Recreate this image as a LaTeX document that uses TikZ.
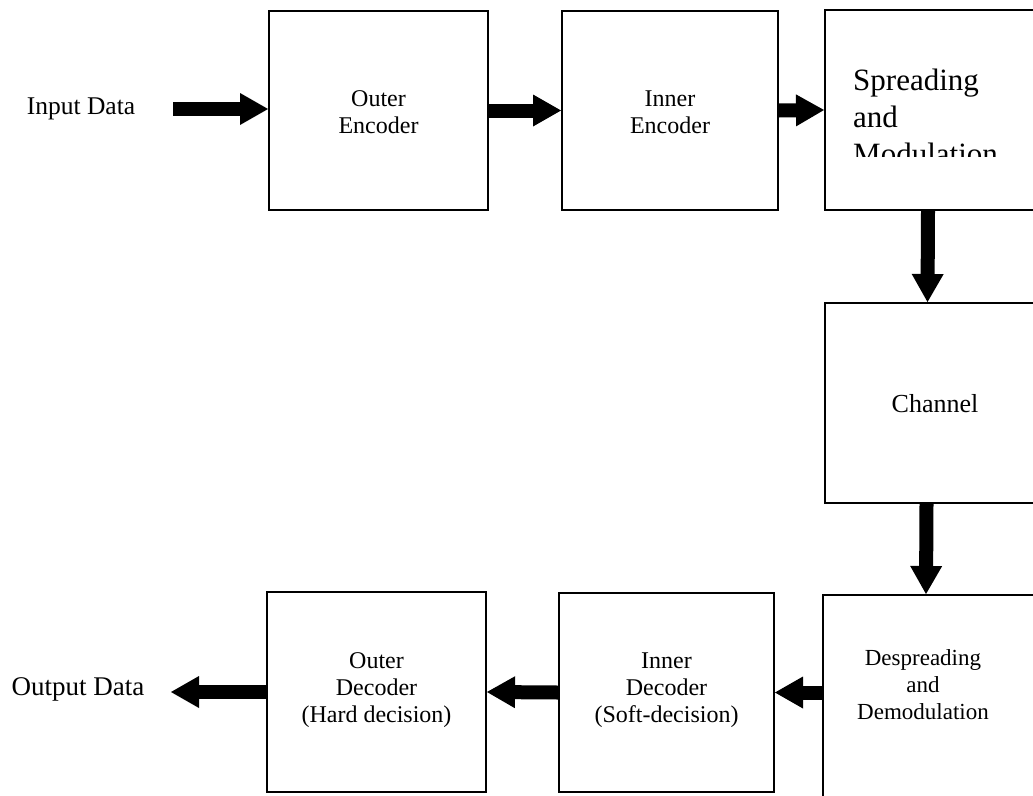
\documentclass[tikz,border=0pt]{standalone}
\usepackage{fontspec}
\setmainfont{Liberation Serif}
\usetikzlibrary{arrows.meta}
\tikzset{
  blk/.style={draw=black, line width=2pt, fill=white, minimum width=#1, inner sep=0pt},
  txt/.style={align=center, inner sep=0pt, font=\fontsize{24}{27}\selectfont},
  arr/.style={line width=14pt, -{Triangle[length=28pt,width=32pt,line width=0pt]}},
}
\begin{document}
\begin{tikzpicture}[x=1pt,y=-1pt]
\clip (0,0) rectangle (1033,795);
\fill[white] (0,0) rectangle (1033,795);
% transmitter
\node[blk=219pt, minimum height=199pt] (oe) at (378.5,110.5) {};
\node[blk=216pt, minimum height=199pt] (ie) at (670,110.5) {};
\node[blk=235pt, minimum height=200pt] (sp) at (942.5,110) {};
\node[txt] (oet) at (378.5,112) {Outer\\Encoder};
\node[txt] (iet) at (670,112) {Inner\\Encoder};
\begin{scope}
\clip (830,12) rectangle (1033,156);
\node[anchor=base west, align=left, inner sep=0pt, font=\fontsize{31}{37}\selectfont] (spt) at (853,164) {Spreading\\and\\Modulation};
\end{scope}
% channel
\node[blk=235pt, minimum height=200pt] (ch) at (942,403) {};
\node[txt, font=\fontsize{26}{30}\selectfont] (cht) at (935,404) {Channel};
% receiver
\node[blk=237pt, minimum height=236pt] (de) at (941.5,713) {};
\node[txt, font=\fontsize{23}{27}\selectfont] (det) at (923,685) {Despreading\\and\\Demodulation};
\node[blk=215pt, minimum height=199pt] (id) at (666.5,692.5) {};
\node[blk=219pt, minimum height=200pt] (od) at (376.5,692) {};
\node[txt] (idt) at (666.5,690) {Inner\\Decoder\\(Soft-decision)};
\node[txt] (odt) at (376.5,690) {Outer\\Decoder\\(Hard decision)};
% labels
\node[txt, font=\fontsize{25.5}{28}\selectfont] (inp) at (81,109) {Input Data};
\node[txt, font=\fontsize{27}{30}\selectfont] (outp) at (78,689) {Output Data};
\coordinate (ins) at (173,109);
\coordinate (outtip) at (171,689);
% connectors
\draw[arr] (ins) -- (ins -| oe.west);
\draw[arr] (oe.east) -- (ie.west);
\draw[arr] (ie.east) -- (sp.west);
\draw[arr] ([xshift=-14.5pt]sp.south) -- ([xshift=-14.5pt]ch.north);
\draw[arr] ([xshift=-15.5pt]ch.south) -- ([xshift=-15.5pt]de.north);
\draw[arr] (de.west |- id.east) -- (id.east);
\draw[arr] (id.west) -- (od.east);
\draw[arr] (od.west) -- (od.west -| outtip);
\end{tikzpicture}
\end{document}
